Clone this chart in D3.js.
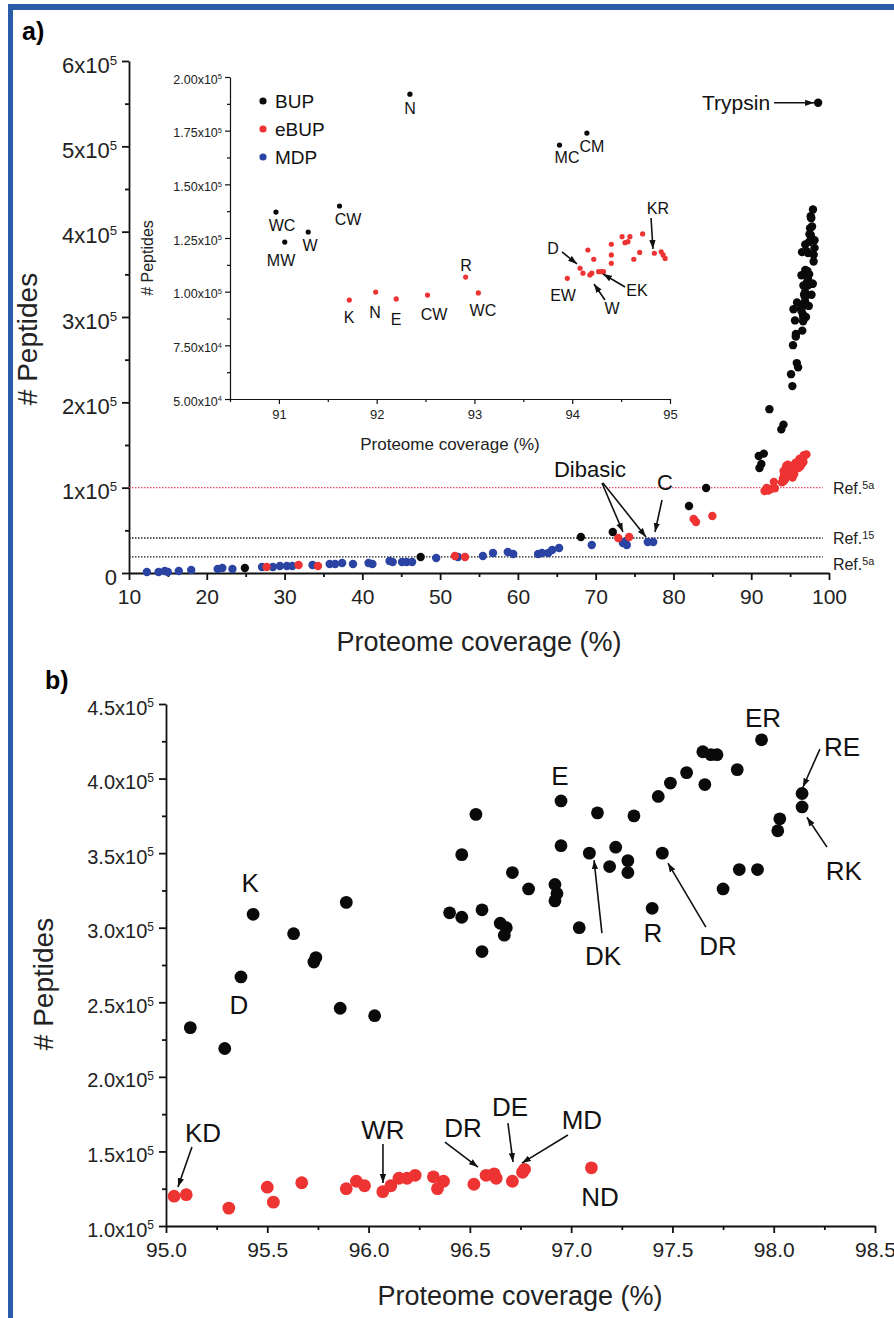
<!DOCTYPE html>
<html>
<head>
<meta charset="utf-8">
<title>Peptides vs proteome coverage</title>
<script src="https://d3js.org/d3.v7.min.js"></script>
<style>
body { margin: 0; padding: 0; background: #fff; }
svg { display: block; font-family: Arial, "Liberation Sans", sans-serif; }
</style>
</head>
<body>
<svg id="chart" width="894" height="1318"></svg>
<script>

// ---- data: [proteome coverage %, # peptides] ----
// panel a, points below 90 % coverage
var aBUP = [[24.9,5900],[47.5,18800],[68.1,42200],[72.2,48000],[82.0,78500],[84.2,99600]];
var aEBUP = [[27.7,7000],[31.8,9400],[34.3,8200],[51.9,19900],[53.2,18800],[72.9,41000],[74.3,42200],
  [82.6,63300],[82.9,59800],[85.0,66800]];
var aMDP = [[12.3,1200],[13.8,1200],[14.6,2300],[15.0,1200],[16.4,2300],[18.0,3500],[21.4,4700],[22.0,5900],
  [23.3,4700],[27.1,7000],[28.5,7000],[29.4,8200],[30.3,8200],[31.0,8200],[33.6,9400],[35.8,10500],
  [36.5,10500],[37.4,11700],[38.8,10500],[40.8,11700],[41.3,10500],[43.5,14100],[43.9,12900],[45.1,12900],
  [45.7,12900],[46.4,12900],[49.5,17600],[52.3,18800],[55.5,19900],[56.8,23400],[58.7,24600],[59.4,22300],
  [62.6,22300],[63.1,23400],[63.9,23400],[64.4,27000],[65.3,29300],[69.5,32800],[73.5,35200],[73.8,37000],
  [74.0,32800],[76.7,36300],[77.4,36300]];
var trypsin = [[98.6,551000]];

// 90.5 - 95 % (inset)
var iBUP = [[90.97,137100],[91.06,123100],[91.30,127800],[91.62,139900],[92.34,192000],[93.87,168300],[94.15,173900]];
var iEBUP = [[91.72,96100],[91.99,99800],[92.20,96600],[92.52,98400],[92.91,106800],[93.04,99400],
  [93.95,106200],[94.08,110900],[94.11,108600],[94.16,119400],[94.18,107800],[94.20,108600],[94.22,115100],
  [94.27,109300],[94.30,109300],[94.32,109300],[94.40,122100],[94.40,117100],[94.40,113200],[94.51,125600],
  [94.54,122800],[94.57,123300],[94.59,125600],[94.63,115100],[94.69,118300],[94.72,126900],[94.84,117900],
  [94.91,118600],[94.93,117100],[94.95,115500]];

// 95 - 98.5 % (panel b)
var bBUP = [[95.43,309000],[95.89,317000],[95.63,296000],[95.74,280000],[95.73,277000],[95.37,267000],
  [96.40,310000],[95.12,233000],[95.29,219000],[95.86,246000],[96.03,241000],[96.53,376000],[96.46,349000],
  [96.71,337000],[96.79,326000],[96.92,329000],[96.93,323000],[96.92,318000],[96.46,307000],[96.56,312000],
  [96.65,303000],[96.68,300000],[96.67,295000],[96.56,284000],[96.95,385000],[96.95,355000],[97.09,350000],
  [97.13,377000],[97.04,300000],[97.19,341000],[97.22,354000],[97.28,345000],[97.28,337000],[97.31,375000],
  [97.43,388000],[97.49,397000],[97.57,404000],[97.65,418000],[97.69,416000],[97.72,416000],[97.66,396000],
  [97.82,406000],[97.94,426000],[97.45,350000],[97.40,313000],[97.75,326000],[97.83,339000],[97.92,339000],
  [98.14,390000],[98.14,381000],[98.03,373000],[98.02,365000]];
var bEBUP = [[95.04,120000],[95.10,121000],[95.31,112000],[95.50,126000],[95.53,116000],[95.67,129000],
  [95.89,125000],[95.94,130000],[95.98,127000],[96.07,123000],[96.11,127000],[96.15,132000],[96.19,132000],
  [96.23,134000],[96.32,133000],[96.34,125000],[96.37,130000],[96.52,128000],[96.58,134000],[96.62,135000],
  [96.63,132000],[96.71,130000],[96.76,136000],[96.77,138000],[97.10,139000]];

// reference levels
var refLines = [[100000,"5a","#e8506a"],[41000,"15","#222"],[19000,"5a","#222"]];
var refLabelY = [99000,41000,10500];

// tick values
var aXTicks = [10,20,30,40,50,60,70,80,90,100];
var aYTicks = [0,1e5,2e5,3e5,4e5,5e5,6e5];
var iXTicks = [91,92,93,94,95];
var iYTicks = [5e4,7.5e4,1e5,1.25e5,1.5e5,1.75e5,2e5];
var bXTicks = [95,95.5,96,96.5,97,97.5,98,98.5];
var bYTicks = [1e5,1.5e5,2e5,2.5e5,3e5,3.5e5,4e5,4.5e5];

// annotations [text, x, y] and arrows [x1, y1, x2, y2] in data units
var aLabels = [["Dibasic",69.27,121900],["C",78.92,106700]];
var aArrows = [[70.81,105500,73.51,48100],[70.94,105500,76.47,42200],[78.53,85600,77.63,48100],[92.94,551000,98.09,551000]];
var iLabels = [["N",92.341,185500],["WC",91.032,131000],["MW",91.022,114700],["W",91.318,121700],["CW",91.707,133800],
  ["MC",93.947,162700],["CM",94.202,167800],["K",91.717,88200],["N",91.983,90500],["E",92.198,87300],
  ["CW",92.586,89600],["R",92.914,112400],["WC",93.087,91500],["D",93.803,120300],["EW",93.906,98400],
  ["W",94.407,92400],["EK",94.662,100800],["KR",94.877,139000]];
var iArrows = [[93.895,118500,94.049,112900],[94.335,96100,94.223,103600],[94.540,102200,94.315,108200],[94.806,134300,94.826,119900]];
var bLabels = [["K",95.415,329900],["D",95.36,248100],["E",96.945,402300],["ER",97.947,441100],["RE",98.337,421700],
  ["RK",98.346,338600],["DK",97.157,281600],["R",97.404,296400],["DR",97.725,288300],["KD",95.183,162300],
  ["WR",96.071,164300],["DR",96.466,165700],["DE",96.698,179800],["MD",97.053,171000],["ND",97.142,119400]];
var bArrows = [[98.228,419700,98.144,394200],[98.263,354000,98.164,374100],[97.152,296400,97.113,345300],
  [97.665,300400,97.478,343300],[95.128,152900,95.059,126100],[96.071,155000,96.071,128800],
  [96.377,156300,96.540,139500],[96.688,169000,96.713,142900],[96.984,161000,96.757,142200]];

var colBUP = "#0a0a0a", colEBUP = "#ee3333", colMDP = "#2b44a3";

var svg = d3.select("#chart");

svg.append("defs").append("marker")
  .attr("id","head").attr("viewBox","0 0 10 7")
  .attr("markerWidth",9).attr("markerHeight",7).attr("markerUnits","userSpaceOnUse")
  .attr("refX",10).attr("refY",3.5).attr("orient","auto")
  .append("path").attr("d","M0,0 L10,3.5 L0,7 z").attr("fill","#111");

// blue frame
svg.append("rect").attr("x",8).attr("y",4).attr("width",886).attr("height",6).attr("fill","#2a5caa");
svg.append("rect").attr("x",8).attr("y",4).attr("width",5).attr("height",1314).attr("fill","#2a5caa");

svg.append("text").attr("x",22).attr("y",40).attr("font-size",25).attr("font-weight","bold").text("a)");
svg.append("text").attr("x",45).attr("y",689).attr("font-size",25).attr("font-weight","bold").text("b)");

function sci(sel, mant, exp) {
  sel.text(null);
  sel.append("tspan").text(mant + "x10");
  sel.append("tspan").attr("dy","-0.6em").attr("font-size","0.6em").text(exp);
}

// draws left + bottom axes with major and minor ticks
function drawAxes(x, y, o) {
  var g = svg.append("g");
  var y0 = y.range()[0], x0 = x.range()[0];
  var gx = g.append("g").attr("transform","translate(0,"+y0+")")
    .call(d3.axisBottom(x).tickValues(o.xMinor).tickSize(o.minor).tickFormat(""));
  gx.select(".domain").remove();
  gx = g.append("g").attr("transform","translate(0,"+y0+")")
    .call(d3.axisBottom(x).tickValues(o.xMajor).tickSize(o.major).tickSizeOuter(0)
      .tickPadding(o.xPad).tickFormat(o.xFmt));
  gx.selectAll("text").attr("font-size",o.xFont).attr("fill","#222").attr("font-family",null);
  var gy = g.append("g").attr("transform","translate("+x0+",0)")
    .call(d3.axisLeft(y).tickValues(o.yMinor).tickSize(o.minor).tickFormat(""));
  gy.select(".domain").remove();
  gy = g.append("g").attr("transform","translate("+x0+",0)")
    .call(d3.axisLeft(y).tickValues(o.yMajor).tickSize(o.major).tickSizeOuter(0)
      .tickPadding(o.yPad).tickFormat(""));
  gy.selectAll("text").attr("font-size",o.yFont).attr("fill","#222").attr("font-family",null)
    .attr("dy","0.5em")
    .each(function(d) { var l = o.yFmt(d); if (l[1]) sci(d3.select(this), l[0], l[1]); else d3.select(this).text(l[0]); });
  g.selectAll(".domain, .tick line").attr("stroke","#111").attr("stroke-width",o.sw);
  return g;
}

function dots(data, x, y, r, col) {
  svg.append("g").selectAll("circle").data(data).enter().append("circle")
    .attr("cx", function(d) { return x(d[0]); })
    .attr("cy", function(d) { return y(d[1]); })
    .attr("r", r).attr("fill", col);
}

function labels(data, x, y, size) {
  svg.append("g").selectAll("text").data(data).enter().append("text")
    .attr("x", function(d) { return x(d[1]); })
    .attr("y", function(d) { return y(d[2]); })
    .attr("dy","0.36em").attr("text-anchor","middle").attr("font-size",size).attr("fill","#111")
    .text(function(d) { return d[0]; });
}

function arrows(data, x, y) {
  svg.append("g").selectAll("line").data(data).enter().append("line")
    .attr("x1", function(d) { return x(d[0]); }).attr("y1", function(d) { return y(d[1]); })
    .attr("x2", function(d) { return x(d[2]); }).attr("y2", function(d) { return y(d[3]); })
    .attr("stroke","#111").attr("stroke-width",1.6).attr("marker-end","url(#head)");
}

// ================= panel a =================
var ax = d3.scaleLinear().domain([10,100]).range([129,829]);
var ay = d3.scaleLinear().domain([0,6e5]).range([573,61]);

drawAxes(ax, ay, {
  xMajor: aXTicks, xMinor: d3.range(15,100,10), yMajor: aYTicks, yMinor: d3.range(5e4,6e5,1e5),
  major: 7, minor: 4, xPad: 9, yPad: 5, xFont: 21, yFont: 22, sw: 1.8,
  xFmt: function(d) { return d; },
  yFmt: function(d) { return d === 0 ? ["0"] : [d / 1e5, "5"]; }
});

svg.append("g").selectAll("line").data(refLines).enter().append("line")
  .attr("x1", ax(10)).attr("x2", ax(99.2))
  .attr("y1", function(d) { return ay(d[0]); }).attr("y2", function(d) { return ay(d[0]); })
  .attr("stroke", function(d) { return d[2]; }).attr("stroke-width",1.3).attr("stroke-dasharray","1.5,1.5");

svg.append("g").selectAll("text").data(refLines).enter().append("text")
  .attr("x", ax(100.5)).attr("y", function(d, i) { return ay(refLabelY[i]); })
  .attr("dy","0.36em").attr("font-size",16).attr("fill","#222")
  .each(function(d) {
    var t = d3.select(this);
    t.append("tspan").text("Ref.");
    t.append("tspan").attr("dy","-0.45em").attr("font-size","0.68em").text(d[1]);
  });

svg.append("text").attr("x",479).attr("y",651).attr("text-anchor","middle").attr("font-size",27)
  .attr("fill","#222").text("Proteome coverage (%)");
svg.append("text").attr("transform","translate(37,339) rotate(-90)").attr("text-anchor","middle")
  .attr("font-size",28).attr("fill","#222").text("# Peptides");

dots(aMDP, ax, ay, 4.2, colMDP);
dots(aEBUP.concat(iEBUP, bEBUP), ax, ay, 4.2, colEBUP);
dots(aBUP.concat(iBUP, bBUP, trypsin), ax, ay, 4.2, colBUP);

labels(aLabels, ax, ay, 22);
arrows(aArrows, ax, ay);
svg.append("text").attr("x", ax(92.43)).attr("y", ay(551000)).attr("dy","0.36em")
  .attr("text-anchor","end").attr("font-size",21).attr("fill","#111").text("Trypsin");

// ================= inset =================
var ix = d3.scaleLinear().domain([90.5,95]).range([230,670]);
var iy = d3.scaleLinear().domain([5e4,2e5]).range([399,77]);

drawAxes(ix, iy, {
  xMajor: iXTicks, xMinor: [90.5,91.5,92.5,93.5,94.5], yMajor: iYTicks,
  yMinor: d3.range(6.25e4,2e5,2.5e4), major: 5, minor: 3, xPad: 6, yPad: 3, xFont: 13, yFont: 12.5, sw: 1.2,
  xFmt: function(d) { return d; },
  yFmt: function(d) { return d < 1e5 ? [(d / 1e4).toFixed(2), "4"] : [(d / 1e5).toFixed(2), "5"]; }
});

svg.append("text").attr("x",450).attr("y",450).attr("text-anchor","middle").attr("font-size",17)
  .attr("fill","#222").text("Proteome coverage (%)");
svg.append("text").attr("transform","translate(153,258) rotate(-90)").attr("text-anchor","middle")
  .attr("font-size",16).attr("fill","#222").text("# Peptides");

function inInset(d) { return d[0] >= 90.5 && d[0] <= 95; }
dots(iEBUP.filter(inInset), ix, iy, 2.6, colEBUP);
dots(iBUP.filter(inInset), ix, iy, 2.6, colBUP);
labels(iLabels, ix, iy, 16);
arrows(iArrows, ix, iy);

var legend = [["BUP", colBUP], ["eBUP", colEBUP], ["MDP", colMDP]];
var lg = svg.append("g").selectAll("g").data(legend).enter().append("g")
  .attr("transform", function(d, i) { return "translate(263," + (101 + i * 28) + ")"; });
lg.append("circle").attr("r",3.6).attr("fill", function(d) { return d[1]; });
lg.append("text").attr("x",12).attr("dy","0.36em").attr("font-size",19).attr("fill","#111")
  .text(function(d) { return d[0]; });

// ================= panel b =================
var bx = d3.scaleLinear().domain([95,98.5]).range([166,875]);
var by = d3.scaleLinear().domain([1e5,4.5e5]).range([1226,704]);

drawAxes(bx, by, {
  xMajor: bXTicks, xMinor: d3.range(95.25,98.5,0.5), yMajor: bYTicks, yMinor: d3.range(1.25e5,4.5e5,0.5e5),
  major: 7, minor: 4, xPad: 9, yPad: 5, xFont: 21, yFont: 20, sw: 1.8,
  xFmt: function(d) { return d.toFixed(1); },
  yFmt: function(d) { return [(d / 1e5).toFixed(1), "5"]; }
});

svg.append("text").attr("x",520).attr("y",1305).attr("text-anchor","middle").attr("font-size",27)
  .attr("fill","#222").text("Proteome coverage (%)");
svg.append("text").attr("transform","translate(53,984) rotate(-90)").attr("text-anchor","middle")
  .attr("font-size",28).attr("fill","#222").text("# Peptides");

dots(bEBUP, bx, by, 6.4, colEBUP);
dots(bBUP, bx, by, 6.4, colBUP);
labels(bLabels, bx, by, 26);
arrows(bArrows, bx, by);

</script>
</body>
</html>
